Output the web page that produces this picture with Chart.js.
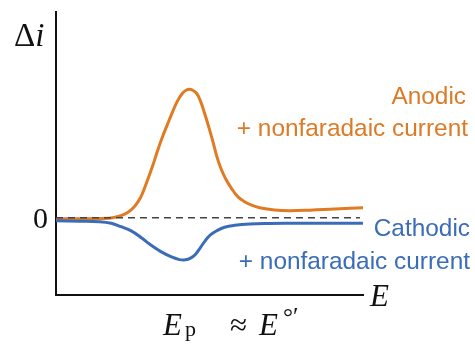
<!DOCTYPE html>
<html>
<head>
<meta charset="utf-8">
<script src="https://cdn.jsdelivr.net/npm/chart.js@4/dist/chart.umd.min.js"></script>
<style>
  html, body { margin:0; padding:0; background:#fff; }
  #wrap { position:relative; width:475px; height:348px; overflow:hidden; }
  canvas { position:absolute; left:0; top:0; }
  .lbl { position:absolute; white-space:nowrap; line-height:1; }
  .math { font-family:"Liberation Serif","DejaVu Serif",serif; color:#111; }
  .sans { font-family:"Liberation Sans",Arial,sans-serif; font-size:24.4px; text-align:right; }
  .or { color:#DD7A26; }
  .bl { color:#3A6CB8; }
</style>
</head>
<body>
<div id="wrap">
  <canvas id="c" width="475" height="348"></canvas>
  <div class="lbl math" style="left:14px; top:19px; font-size:33px;">Δ<i>i</i></div>
  <div class="lbl math" style="left:33px; top:203px; font-size:30px;">0</div>
  <div class="lbl math" style="left:370px; top:280px; font-size:31px;"><i>E</i></div>
  <div class="lbl math" style="left:163px; top:309px; font-size:31px;"><i>E</i></div>
  <div class="lbl math" style="left:185px; top:318px; font-size:22px;">p</div>
  <div class="lbl math" style="left:230px; top:309px; font-size:31px;">≈</div>
  <div class="lbl math" style="left:259px; top:309px; font-size:31px;"><i>E</i></div>
  <div class="lbl math" style="left:283px; top:304px; font-size:25px;">°′</div>
  <div class="lbl sans or" style="right:9px; top:84px;">Anodic</div>
  <div class="lbl sans or" style="right:7px; top:116px;">+ nonfaradaic current</div>
  <div class="lbl sans bl" style="right:5px; top:216px;">Cathodic</div>
  <div class="lbl sans bl" style="right:5px; top:249px;">+ nonfaradaic current</div>
</div>
<script>
// E (arbitrary units, 0..100) and Δi (normalized, anodic peak = 1)
const anodicE = [0, 7.5, 17.3, 20.6, 23.2, 25.5, 27.5, 29.4, 31.4, 33.0, 34.6, 36.3, 37.9, 39.5, 41.2, 42.5, 43.5, 44.4, 45.8, 47.1, 48.4, 49.7, 51.0, 52.3, 53.6, 55.2, 57.2, 59.2, 61.4, 63.7, 66.3, 71.2, 76.1, 82.7, 89.2, 95.8, 100];
const anodicI = [-0.008, -0.008, -0.004, 0.012, 0.039, 0.086, 0.156, 0.266, 0.398, 0.516, 0.625, 0.727, 0.820, 0.906, 0.969, 0.994, 1.0, 0.994, 0.969, 0.906, 0.813, 0.711, 0.602, 0.484, 0.391, 0.305, 0.227, 0.164, 0.125, 0.098, 0.078, 0.060, 0.055, 0.059, 0.066, 0.074, 0.078];
const cathodicE = [0, 7.5, 14.1, 18.0, 21.2, 24.5, 27.8, 31.0, 34.3, 37.6, 40.2, 42.2, 43.8, 45.4, 47.1, 48.7, 50.3, 52.3, 54.9, 58.2, 63.1, 69.6, 79.4, 100];
const cathodicI = [-0.023, -0.027, -0.031, -0.043, -0.070, -0.102, -0.156, -0.215, -0.266, -0.305, -0.326, -0.328, -0.315, -0.286, -0.230, -0.176, -0.133, -0.102, -0.074, -0.059, -0.049, -0.045, -0.043, -0.043];
const zeroE = [0, 99];
const zeroI = [0, 0];

const pts = (xs, ys) => xs.map((x, i) => ({ x: x, y: ys[i] }));

new Chart(document.getElementById('c'), {
  type: 'line',
  data: {
    datasets: [
      { data: pts(zeroE, zeroI), borderColor: '#444', borderWidth: 1.6, borderDash: [7, 5], pointRadius: 0, tension: 0 },
      { data: pts(cathodicE, cathodicI), borderColor: '#3A6CB8', borderWidth: 3, pointRadius: 0, tension: 0.4 },
      { data: pts(anodicE, anodicI), borderColor: '#E07B24', borderWidth: 3, pointRadius: 0, tension: 0.4 }
    ]
  },
  options: {
    responsive: false,
    animation: false,
    layout: { padding: { left: 56, top: 12, right: 112, bottom: 53 } },
    plugins: { legend: { display: false }, tooltip: { enabled: false } },
    scales: {
      x: {
        type: 'linear', min: 0, max: 100,
        grid: { display: false, drawTicks: false },
        ticks: { display: false },
        border: { display: true, color: '#111', width: 2 }
      },
      y: {
        type: 'linear', min: -0.6016, max: 1.6016,
        grid: { display: false, drawTicks: false },
        ticks: { display: false },
        border: { display: true, color: '#111', width: 2 }
      }
    }
  }
});
</script>
</body>
</html>
